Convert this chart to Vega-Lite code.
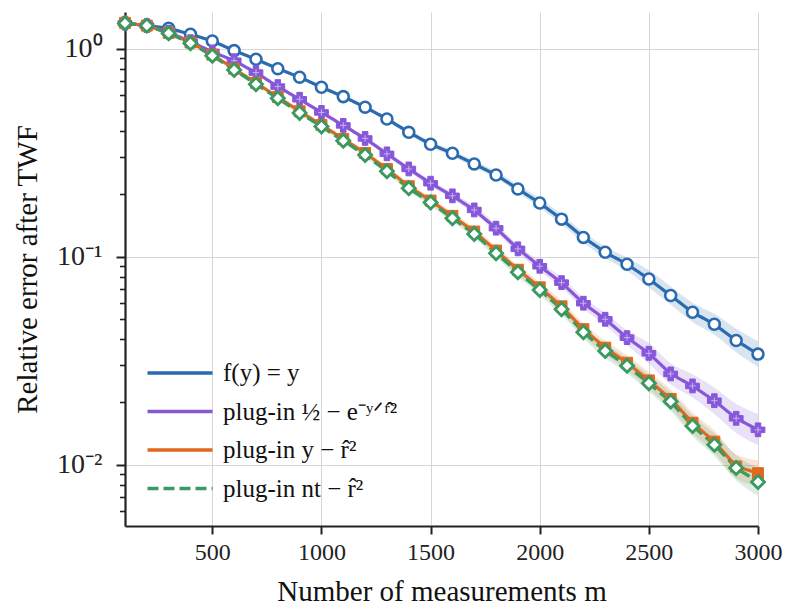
{
  "$schema": "https://vega.github.io/schema/vega-lite/v6.json",
  "width": 633,
  "height": 514,
  "autosize": {"type": "none"},
  "padding": {"left": 125, "top": 12, "right": 29, "bottom": 83},
  "background": "white",
  "config": {
    "view": {"stroke": null},
    "font": "Times New Roman",
    "axis": {
      "domainColor": "#222222",
      "domainWidth": 2.2,
      "tickColor": "#222222",
      "gridColor": "#d6d6d6",
      "gridWidth": 1,
      "labelFont": "Times New Roman",
      "titleFont": "Times New Roman",
      "labelColor": "#222222",
      "titleColor": "#111111",
      "titleFontWeight": "normal",
      "labelFontSize": 24,
      "titleFontSize": 29
    },
    "axisX": {"labelFont": "Times New Roman", "titleFont": "Times New Roman"},
    "axisY": {"labelFont": "Times New Roman", "titleFont": "Times New Roman"},
    "legend": {
      "labelFont": "Times New Roman"
    }
  },
  "data": {
    "values": [
      {"s":"a","m":100,"v":1.325,"lo":1.32,"hi":1.33},
      {"s":"a","m":200,"v":1.29,"lo":1.285,"hi":1.295},
      {"s":"a","m":300,"v":1.253,"lo":1.245,"hi":1.26},
      {"s":"a","m":400,"v":1.173,"lo":1.165,"hi":1.18},
      {"s":"a","m":500,"v":1.089,"lo":1.08,"hi":1.1},
      {"s":"a","m":600,"v":0.978,"lo":0.968,"hi":0.988},
      {"s":"a","m":700,"v":0.889,"lo":0.878,"hi":0.9},
      {"s":"a","m":800,"v":0.801,"lo":0.79,"hi":0.812},
      {"s":"a","m":900,"v":0.729,"lo":0.718,"hi":0.74},
      {"s":"a","m":1000,"v":0.652,"lo":0.641,"hi":0.664},
      {"s":"a","m":1100,"v":0.588,"lo":0.577,"hi":0.6},
      {"s":"a","m":1200,"v":0.523,"lo":0.512,"hi":0.535},
      {"s":"a","m":1300,"v":0.459,"lo":0.448,"hi":0.47},
      {"s":"a","m":1400,"v":0.396,"lo":0.386,"hi":0.407},
      {"s":"a","m":1500,"v":0.347,"lo":0.337,"hi":0.358},
      {"s":"a","m":1600,"v":0.314,"lo":0.304,"hi":0.325},
      {"s":"a","m":1700,"v":0.279,"lo":0.269,"hi":0.289},
      {"s":"a","m":1800,"v":0.247,"lo":0.238,"hi":0.257},
      {"s":"a","m":1900,"v":0.2116,"lo":0.203,"hi":0.221},
      {"s":"a","m":2000,"v":0.181,"lo":0.172,"hi":0.191},
      {"s":"a","m":2100,"v":0.1514,"lo":0.143,"hi":0.16},
      {"s":"a","m":2200,"v":0.1237,"lo":0.1165,"hi":0.1315},
      {"s":"a","m":2300,"v":0.105,"lo":0.0985,"hi":0.112},
      {"s":"a","m":2400,"v":0.0919,"lo":0.0855,"hi":0.0988},
      {"s":"a","m":2500,"v":0.0781,"lo":0.071,"hi":0.086},
      {"s":"a","m":2600,"v":0.065,"lo":0.0588,"hi":0.0719},
      {"s":"a","m":2700,"v":0.054,"lo":0.0485,"hi":0.0601},
      {"s":"a","m":2800,"v":0.0473,"lo":0.0421,"hi":0.0531},
      {"s":"a","m":2900,"v":0.0395,"lo":0.0347,"hi":0.045},
      {"s":"a","m":3000,"v":0.034,"lo":0.0295,"hi":0.0392},

      {"s":"b","m":100,"v":1.325,"lo":1.32,"hi":1.33},
      {"s":"b","m":200,"v":1.29,"lo":1.28,"hi":1.3},
      {"s":"b","m":300,"v":1.2,"lo":1.19,"hi":1.21},
      {"s":"b","m":400,"v":1.08,"lo":1.07,"hi":1.09},
      {"s":"b","m":500,"v":0.965,"lo":0.955,"hi":0.975},
      {"s":"b","m":600,"v":0.875,"lo":0.865,"hi":0.886},
      {"s":"b","m":700,"v":0.767,"lo":0.757,"hi":0.778},
      {"s":"b","m":800,"v":0.657,"lo":0.647,"hi":0.668},
      {"s":"b","m":900,"v":0.571,"lo":0.561,"hi":0.581},
      {"s":"b","m":1000,"v":0.4935,"lo":0.484,"hi":0.503},
      {"s":"b","m":1100,"v":0.4275,"lo":0.418,"hi":0.437},
      {"s":"b","m":1200,"v":0.37,"lo":0.361,"hi":0.379},
      {"s":"b","m":1300,"v":0.312,"lo":0.304,"hi":0.321},
      {"s":"b","m":1400,"v":0.264,"lo":0.256,"hi":0.272},
      {"s":"b","m":1500,"v":0.2254,"lo":0.218,"hi":0.233},
      {"s":"b","m":1600,"v":0.196,"lo":0.189,"hi":0.203},
      {"s":"b","m":1700,"v":0.1677,"lo":0.161,"hi":0.175},
      {"s":"b","m":1800,"v":0.137,"lo":0.131,"hi":0.1435},
      {"s":"b","m":1900,"v":0.109,"lo":0.104,"hi":0.1145},
      {"s":"b","m":2000,"v":0.0899,"lo":0.0853,"hi":0.0948},
      {"s":"b","m":2100,"v":0.075,"lo":0.0708,"hi":0.0795},
      {"s":"b","m":2200,"v":0.0597,"lo":0.0561,"hi":0.0636},
      {"s":"b","m":2300,"v":0.05,"lo":0.0466,"hi":0.0537},
      {"s":"b","m":2400,"v":0.0408,"lo":0.0376,"hi":0.0442},
      {"s":"b","m":2500,"v":0.0343,"lo":0.0306,"hi":0.0384},
      {"s":"b","m":2600,"v":0.0273,"lo":0.0243,"hi":0.0307},
      {"s":"b","m":2700,"v":0.0239,"lo":0.021,"hi":0.0272},
      {"s":"b","m":2800,"v":0.0203,"lo":0.0175,"hi":0.0235},
      {"s":"b","m":2900,"v":0.0167,"lo":0.0142,"hi":0.0196},
      {"s":"b","m":3000,"v":0.0147,"lo":0.0124,"hi":0.0175},

      {"s":"c","m":100,"v":1.33,"lo":1.323,"hi":1.337},
      {"s":"c","m":200,"v":1.29,"lo":1.283,"hi":1.297},
      {"s":"c","m":300,"v":1.19,"lo":1.182,"hi":1.198},
      {"s":"c","m":400,"v":1.07,"lo":1.061,"hi":1.079},
      {"s":"c","m":500,"v":0.935,"lo":0.926,"hi":0.944},
      {"s":"c","m":600,"v":0.8,"lo":0.791,"hi":0.809},
      {"s":"c","m":700,"v":0.685,"lo":0.676,"hi":0.694},
      {"s":"c","m":800,"v":0.585,"lo":0.576,"hi":0.594},
      {"s":"c","m":900,"v":0.5,"lo":0.491,"hi":0.509},
      {"s":"c","m":1000,"v":0.43,"lo":0.421,"hi":0.439},
      {"s":"c","m":1100,"v":0.368,"lo":0.359,"hi":0.377},
      {"s":"c","m":1200,"v":0.315,"lo":0.307,"hi":0.323},
      {"s":"c","m":1300,"v":0.264,"lo":0.257,"hi":0.271},
      {"s":"c","m":1400,"v":0.218,"lo":0.211,"hi":0.225},
      {"s":"c","m":1500,"v":0.186,"lo":0.179,"hi":0.193},
      {"s":"c","m":1600,"v":0.157,"lo":0.151,"hi":0.163},
      {"s":"c","m":1700,"v":0.132,"lo":0.126,"hi":0.138},
      {"s":"c","m":1800,"v":0.107,"lo":0.102,"hi":0.112},
      {"s":"c","m":1900,"v":0.0865,"lo":0.082,"hi":0.091},
      {"s":"c","m":2000,"v":0.0712,"lo":0.0672,"hi":0.0754},
      {"s":"c","m":2100,"v":0.0577,"lo":0.0542,"hi":0.0614},
      {"s":"c","m":2200,"v":0.0448,"lo":0.0418,"hi":0.048},
      {"s":"c","m":2300,"v":0.0365,"lo":0.0338,"hi":0.0394},
      {"s":"c","m":2400,"v":0.0309,"lo":0.0284,"hi":0.0336},
      {"s":"c","m":2500,"v":0.0254,"lo":0.0231,"hi":0.0279},
      {"s":"c","m":2600,"v":0.0207,"lo":0.0186,"hi":0.023},
      {"s":"c","m":2700,"v":0.0159,"lo":0.0142,"hi":0.0178},
      {"s":"c","m":2800,"v":0.0129,"lo":0.0114,"hi":0.0146},
      {"s":"c","m":2900,"v":0.0098,"lo":0.0086,"hi":0.0112},
      {"s":"c","m":3000,"v":0.0091,"lo":0.0079,"hi":0.0105},

      {"s":"d","m":100,"v":1.325,"lo":1.318,"hi":1.332},
      {"s":"d","m":200,"v":1.29,"lo":1.283,"hi":1.297},
      {"s":"d","m":300,"v":1.186,"lo":1.178,"hi":1.194},
      {"s":"d","m":400,"v":1.062,"lo":1.053,"hi":1.071},
      {"s":"d","m":500,"v":0.925,"lo":0.916,"hi":0.934},
      {"s":"d","m":600,"v":0.79,"lo":0.781,"hi":0.799},
      {"s":"d","m":700,"v":0.674,"lo":0.665,"hi":0.683},
      {"s":"d","m":800,"v":0.577,"lo":0.568,"hi":0.586},
      {"s":"d","m":900,"v":0.491,"lo":0.482,"hi":0.5},
      {"s":"d","m":1000,"v":0.422,"lo":0.413,"hi":0.431},
      {"s":"d","m":1100,"v":0.361,"lo":0.352,"hi":0.37},
      {"s":"d","m":1200,"v":0.308,"lo":0.3,"hi":0.316},
      {"s":"d","m":1300,"v":0.2575,"lo":0.25,"hi":0.265},
      {"s":"d","m":1400,"v":0.213,"lo":0.206,"hi":0.22},
      {"s":"d","m":1500,"v":0.182,"lo":0.175,"hi":0.189},
      {"s":"d","m":1600,"v":0.153,"lo":0.147,"hi":0.159},
      {"s":"d","m":1700,"v":0.1286,"lo":0.123,"hi":0.1345},
      {"s":"d","m":1800,"v":0.1038,"lo":0.099,"hi":0.109},
      {"s":"d","m":1900,"v":0.0842,"lo":0.0798,"hi":0.0888},
      {"s":"d","m":2000,"v":0.0692,"lo":0.0653,"hi":0.0733},
      {"s":"d","m":2100,"v":0.0559,"lo":0.0525,"hi":0.0595},
      {"s":"d","m":2200,"v":0.0433,"lo":0.0404,"hi":0.0464},
      {"s":"d","m":2300,"v":0.0352,"lo":0.0326,"hi":0.038},
      {"s":"d","m":2400,"v":0.0299,"lo":0.0275,"hi":0.0325},
      {"s":"d","m":2500,"v":0.0246,"lo":0.0224,"hi":0.027},
      {"s":"d","m":2600,"v":0.0201,"lo":0.0181,"hi":0.0223},
      {"s":"d","m":2700,"v":0.01535,"lo":0.0137,"hi":0.0172},
      {"s":"d","m":2800,"v":0.01245,"lo":0.011,"hi":0.0141},
      {"s":"d","m":2900,"v":0.00964,"lo":0.0084,"hi":0.0111},
      {"s":"d","m":3000,"v":0.00826,"lo":0.0071,"hi":0.0096}
    ]
  },
  "encoding": {
    "x": {
      "field": "m",
      "type": "quantitative",
      "scale": {"domain": [100, 3000], "nice": false, "zero": false},
      "axis": {
        "title": "Number of measurements m",
        "values": [500, 1000, 1500, 2000, 2500, 3000],
        "format": "d",
        "grid": true,
        "tickSize": 8,
        "tickWidth": 2,
        "labelFont": "Times New Roman",
        "titleFont": "Times New Roman",
        "labelPadding": 6,
        "titlePadding": 13,
        "labelFlush": false
      }
    }
  },
  "layer": [
    {
      "mark": {"type": "area", "fillOpacity": 0.18, "interpolate": "monotone"},
      "encoding": {
        "y": {"field": "lo", "type": "quantitative", "scale": {"type": "log", "domain": [0.00507, 1.5], "nice": false}},
        "y2": {"field": "hi"},
        "color": {"field": "s", "type": "nominal", "scale": {"domain": ["a", "b", "c", "d"], "range": ["#2a6bb0", "#8757d9", "#e0691f", "#389a5f"]}}
      }
    },
    {
      "mark": {"type": "line", "strokeWidth": 3.2},
      "encoding": {
        "y": {
          "field": "v",
          "type": "quantitative",
          "scale": {"type": "log", "domain": [0.00507, 1.5], "nice": false},
          "axis": {
            "title": "Relative error after TWF",
            "values": [0.006, 0.007, 0.008, 0.009, 0.01, 0.02, 0.03, 0.04, 0.05, 0.06, 0.07, 0.08, 0.09, 0.1, 0.2, 0.3, 0.4, 0.5, 0.6, 0.7, 0.8, 0.9, 1],
            "labelExpr": "datum.value == 1 ? '10⁰' : (abs(datum.value - 0.1) < 1e-9 ? '10⁻¹' : (abs(datum.value - 0.01) < 1e-9 ? '10⁻²' : ''))",
            "labelFont": "Times New Roman",
            "titleFont": "Times New Roman",
            "labelFontSize": 28,
            "grid": true,
            "gridOpacity": {"condition": {"test": "datum.value == 1 || abs(datum.value - 0.1) < 1e-9 || abs(datum.value - 0.01) < 1e-9", "value": 1}, "value": 0},
            "tickSize": {"condition": {"test": "datum.value == 1 || abs(datum.value - 0.1) < 1e-9 || abs(datum.value - 0.01) < 1e-9", "value": 9}, "value": 5.5},
            "tickWidth": {"condition": {"test": "datum.value == 1 || abs(datum.value - 0.1) < 1e-9 || abs(datum.value - 0.01) < 1e-9", "value": 2}, "value": 1.6},
            "labelPadding": 14,
            "titlePadding": 14
          }
        },
        "color": {
          "field": "s",
          "type": "nominal",
          "scale": {"domain": ["a", "b", "c", "d"], "range": ["#2a6bb0", "#8757d9", "#e0691f", "#389a5f"]},
          "legend": {
            "title": null,
            "orient": "none",
            "legendX": 40,
            "legendY": 346,
            "symbolType": "M-2.5,0L2.5,0",
            "symbolSize": 676,
            "symbolStrokeWidth": 3.5,
            "symbolOpacity": 1,
            "labelFontSize": 25,
            "labelFont": "Times New Roman",
            "labelColor": "#111111",
            "labelOffset": 28,
            "labelLimit": 400,
            "rowPadding": 10.5,
            "labelExpr": "datum.value == 'a' ? 'f(y) = y' : datum.value == 'b' ? 'plug-in ½ − e⁻ʸᐟʳ̂²' : datum.value == 'c' ? 'plug-in y − r̂²' : 'plug-in nt − r̂²'"
          }
        },
        "strokeDash": {
          "field": "s",
          "type": "nominal",
          "scale": {"domain": ["a", "b", "c", "d"], "range": [[1, 0], [1, 0], [1, 0], [11, 5]]},
          "legend": {
            "title": null,
            "orient": "none",
            "legendX": 40,
            "legendY": 346,
            "symbolType": "M-2.5,0L2.5,0",
            "symbolSize": 676,
            "symbolStrokeWidth": 3.5,
            "symbolOpacity": 1,
            "labelFontSize": 25,
            "labelFont": "Times New Roman",
            "labelColor": "#111111",
            "labelOffset": 28,
            "labelLimit": 400,
            "rowPadding": 10.5,
            "labelExpr": "datum.value == 'a' ? 'f(y) = y' : datum.value == 'b' ? 'plug-in ½ − e⁻ʸᐟʳ̂²' : datum.value == 'c' ? 'plug-in y − r̂²' : 'plug-in nt − r̂²'"
          }
        }
      }
    },
    {
      "transform": [{"filter": "datum.s == 'a'"}],
      "mark": {"type": "point", "shape": "circle", "size": 120, "filled": true, "fill": "white", "stroke": "#2a6bb0", "strokeWidth": 2.6, "opacity": 1},
      "encoding": {"y": {"field": "v", "type": "quantitative", "scale": {"type": "log", "domain": [0.00507, 1.5], "nice": false}}}
    },
    {
      "transform": [{"filter": "datum.s == 'b'"}],
      "mark": {"type": "point", "shape": "cross", "size": 190, "filled": true, "fill": "#8757d9", "stroke": "#8757d9", "strokeWidth": 1, "opacity": 1},
      "encoding": {"y": {"field": "v", "type": "quantitative", "scale": {"type": "log", "domain": [0.00507, 1.5], "nice": false}}}
    },
    {
      "transform": [{"filter": "datum.s == 'b'"}],
      "mark": {"type": "point", "shape": "M-1,0L1,0M0,-1L0,1", "size": 40, "filled": false, "stroke": "#c7b2f2", "strokeWidth": 1, "opacity": 1},
      "encoding": {"y": {"field": "v", "type": "quantitative", "scale": {"type": "log", "domain": [0.00507, 1.5], "nice": false}}}
    },
    {
      "transform": [{"filter": "datum.s == 'c'"}],
      "mark": {"type": "point", "shape": "square", "size": 120, "filled": true, "fill": "#e0691f", "stroke": "#e0691f", "strokeWidth": 1, "opacity": 1},
      "encoding": {"y": {"field": "v", "type": "quantitative", "scale": {"type": "log", "domain": [0.00507, 1.5], "nice": false}}}
    },
    {
      "transform": [{"filter": "datum.s == 'd'"}],
      "mark": {"type": "point", "shape": "diamond", "size": 170, "filled": true, "fill": "white", "stroke": "#389a5f", "strokeWidth": 2.8, "opacity": 1},
      "encoding": {"y": {"field": "v", "type": "quantitative", "scale": {"type": "log", "domain": [0.00507, 1.5], "nice": false}}}
    }
  ]
}
